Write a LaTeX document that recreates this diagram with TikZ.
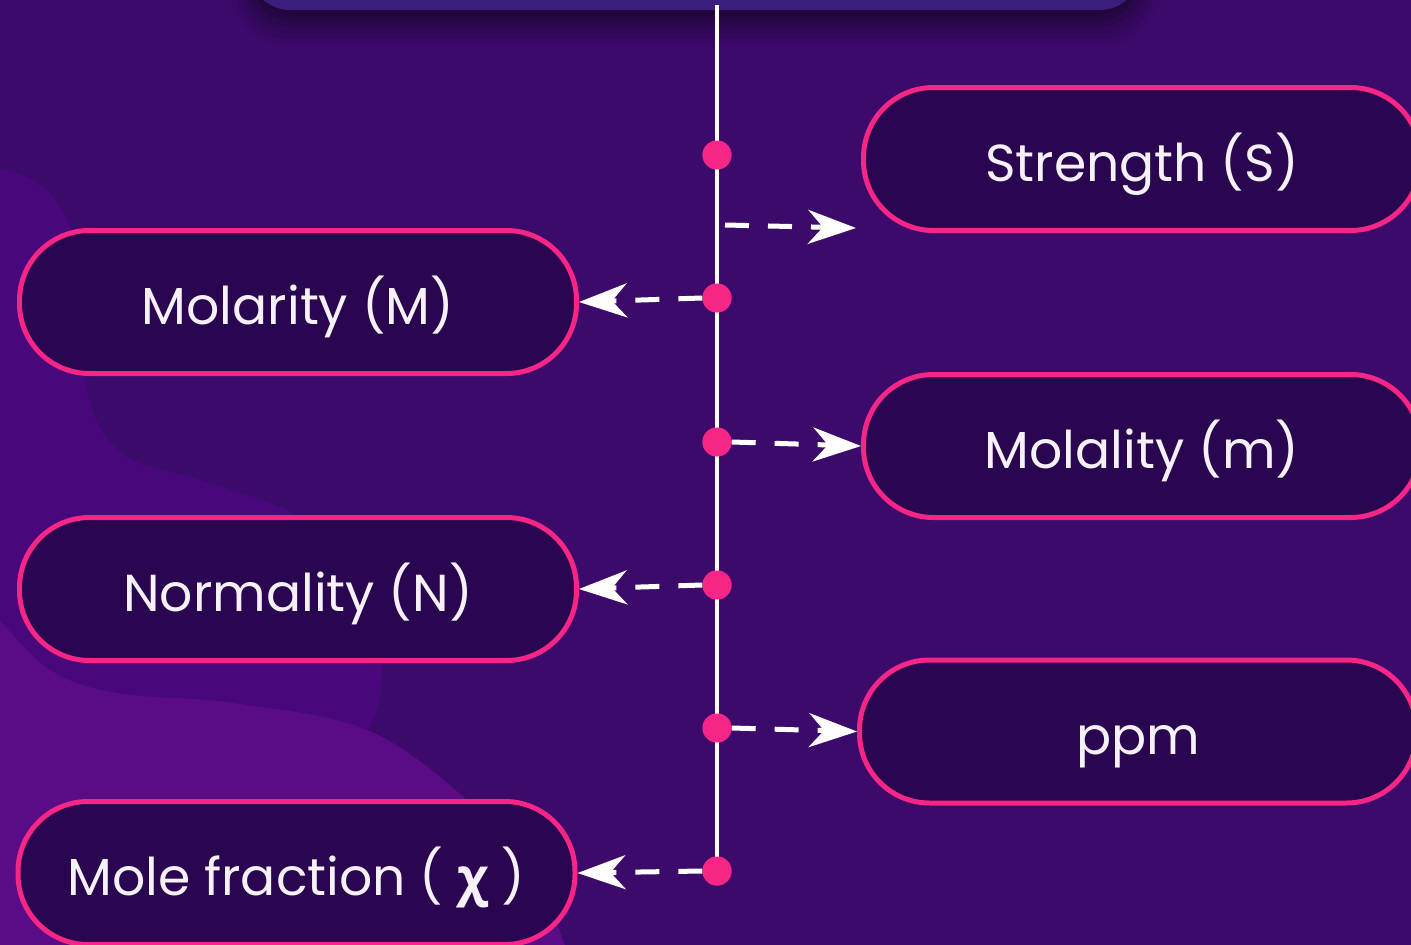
\documentclass[tikz,border=0pt]{standalone}
\usepackage{fontspec}
\setmainfont{Poppins}
\newfontfamily\chifont{Open Sans}
\usetikzlibrary{arrows.meta, shadows.blur}
\definecolor{bgc}{HTML}{3C0A6B}
\definecolor{blobA}{HTML}{48077A}
\definecolor{blobB}{HTML}{5A0C86}
\definecolor{pinkc}{HTML}{F72585}
\definecolor{pillc}{HTML}{2A0550}
\definecolor{topc}{HTML}{3A1E7B}
\definecolor{txtc}{HTML}{F6F1F8}
\begin{document}
\begin{tikzpicture}[x=1pt, y=-1pt,
  pill/.style={draw=pinkc, line width=5pt, fill=pillc, rounded corners=70pt,
    minimum width=557pt, minimum height=143pt, inner sep=0pt, text=txtc,
    text height=52pt, text depth=7pt,
    font=\fontsize{52}{62}\selectfont},
  dotnode/.style={circle, fill=pinkc, minimum size=29pt, inner sep=0pt},
  conn/.style={draw=white, line width=5pt, dash pattern=on 24pt off 19pt,
    -{Stealth[length=48pt, width=34pt, inset=15pt]}},
  spine/.style={draw=white, line width=4.5pt}]
\useasboundingbox (0,0) rectangle (1411,945);
% background
\fill[bgc] (0,0) rectangle (1411,945);
\fill[blobA] plot[smooth, tension=0.6] coordinates {(0,168) (33,180) (60,207) (76,250) (81,320) (84,377) (100,427) (133,460) (200,480) (293,513) (350,560) (377,620) (381,690) (368,730)} -- (368,945) -- (0,945) -- cycle;
\fill[blobB] plot[smooth, tension=0.6] coordinates {(0,620) (50,670) (117,693) (233,703) (367,730) (467,800) (530,870) (565,945)} -- (0,945) -- cycle;
% top box
\fill[topc, rounded corners=40pt, blur shadow={shadow xshift=0pt, shadow yshift=-14pt, shadow blur radius=22pt, shadow opacity=55}] (250,-80) rectangle (1140,10);
% spine
\coordinate (top) at (717,5);
\node[dotnode] (d1) at (717,155) {};
\node[dotnode] (d2) at (717,298) {};
\node[dotnode] (d3) at (717,442) {};
\node[dotnode] (d4) at (717,585) {};
\node[dotnode] (d5) at (717,728) {};
\node[dotnode] (d6) at (717,871) {};
\draw[spine] (top) -- (d6.center);
% pills
\node[pill] (S) at (1142,159) {Strength (S)};
\node[pill] (M) at (298,302) {Molarity (M)};
\node[pill] (m) at (1142,446) {Molality (m)};
\node[pill] (N) at (298,589) {Normality (N)};
\node[pill] (p) at (1138,731.5) {ppm};
\node[pill] (x) at (296.5,873) {Mole fraction ( {\chifont\bfseries χ} )};
% connectors
\coordinate (s0) at (725,225);
\coordinate (s1) at (856,228);
\draw[conn] (s0) -- (s1);
\draw[conn] (d2.west) -- (M.east);
\draw[conn] (d3.east) -- (m.west);
\draw[conn] (d4.west) -- (N.east);
\draw[conn] (d5.east) -- (p.west);
\draw[conn] (d6.west) -- (x.east);
% dots on top
\foreach \n in {d1,d2,d3,d4,d5,d6} \fill[pinkc] (\n) circle (14.5pt);
\end{tikzpicture}
\end{document}
